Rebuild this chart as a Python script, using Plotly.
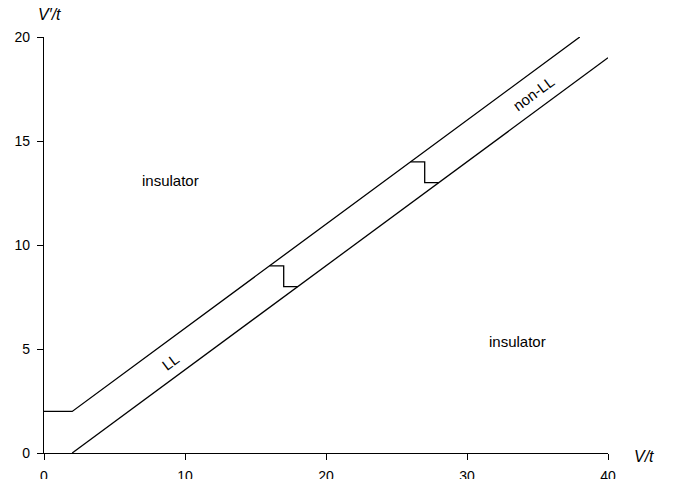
import plotly.graph_objects as go

# Phase boundary lines (V/t, V'/t)
upper_x = [0, 2, 38]
upper_y = [2, 2, 20]
lower_x = [2, 40]
lower_y = [0, 19]
step1_x = [16, 17, 17, 18]
step1_y = [9, 9, 8, 8]
step2_x = [26, 27, 27, 28]
step2_y = [14, 14, 13, 13]

x_ticks = [0, 10, 20, 30, 40]
y_ticks = [0, 5, 10, 15, 20]

labels = ["insulator", "insulator", "LL", "non-LL"]
label_x = [9.0, 33.6, 9.0, 34.7]
label_y = [13.1, 5.35, 4.4, 17.3]
label_angle = [0, 0, -36.4, -36.4]

fig = go.Figure()
line_style = dict(color="black", width=1.3)
for xs, ys in [(upper_x, upper_y), (lower_x, lower_y), (step1_x, step1_y), (step2_x, step2_y)]:
    fig.add_trace(go.Scatter(x=xs, y=ys, mode="lines", line=line_style,
                             cliponaxis=False, showlegend=False, hoverinfo="skip"))

font_main = "Liberation Sans, Arial, sans-serif"
for t, x, y, a in zip(labels, label_x, label_y, label_angle):
    fig.add_annotation(x=x, y=y, text=t, showarrow=False, textangle=a,
                       font=dict(family=font_main, size=15, color="black"))

fig.add_annotation(x=0.0095, y=1.053, xref="paper", yref="paper", text="<i>V′/t</i>",
                   xanchor="center", yanchor="middle",
                   showarrow=False, font=dict(family=font_main, size=16, color="black"))
fig.add_annotation(x=1.064, y=-0.0096, xref="paper", yref="paper", text="<i>V/t</i>",
                   xanchor="center", yanchor="middle",
                   showarrow=False, font=dict(family=font_main, size=16, color="black"))

axis_common = dict(showgrid=False, zeroline=False, showline=True, linecolor="black",
                   linewidth=1.2, ticks="outside", ticklen=6, tickwidth=1.2,
                   tickcolor="black", tickfont=dict(family=font_main, size=14, color="black"),
                   automargin=False, ticklabelstandoff=4)
fig.update_xaxes(range=[0, 40], tickvals=x_ticks, **axis_common)
fig.update_yaxes(range=[0, 20], tickvals=y_ticks, **axis_common)

fig.update_layout(width=666, height=471, plot_bgcolor="white", paper_bgcolor="white",
                  margin=dict(l=36, r=66, t=29, b=26), showlegend=False)

fig.write_html("out.html")
